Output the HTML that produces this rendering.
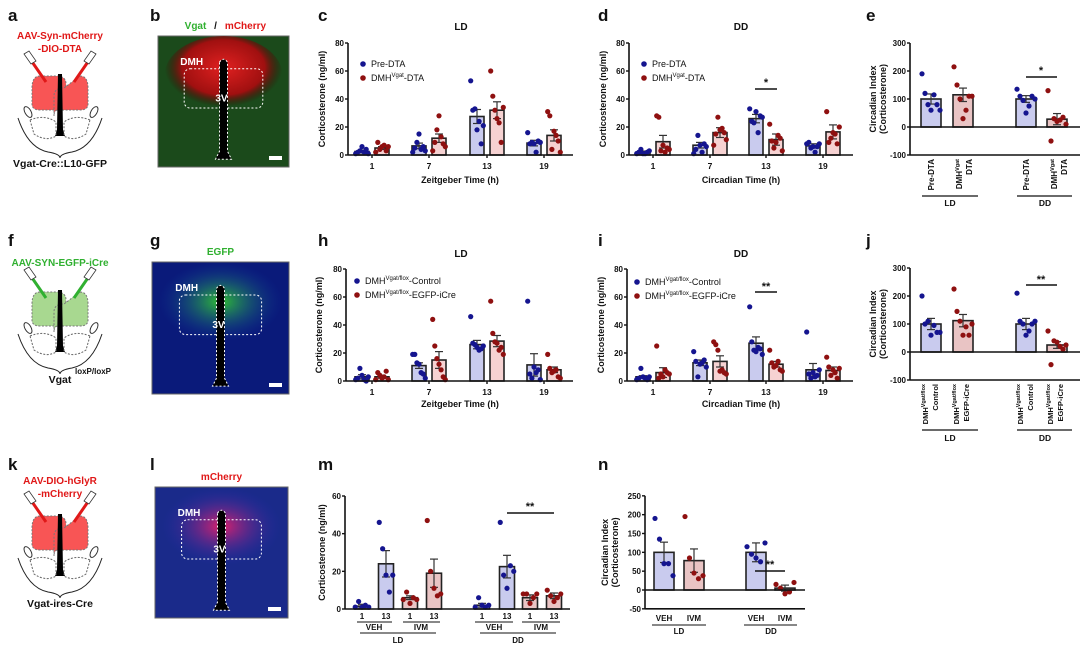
<!DOCTYPE html>
<html><head><meta charset="utf-8"><style>
html,body{margin:0;padding:0;background:#fff;}
svg{display:block;font-family:"Liberation Sans",Arial,sans-serif;}
text{font-family:"Liberation Sans",Arial,sans-serif;}
</style></head><body>
<svg id="s" width="1080" height="646" viewBox="0 0 1080 646" xmlns="http://www.w3.org/2000/svg">
<defs>
<radialGradient id="gr" cx="50%" cy="40%" r="50%"><stop offset="0" stop-color="#e02020"/><stop offset="0.7" stop-color="#a01010"/><stop offset="1" stop-color="#300" stop-opacity="0"/></radialGradient>
<radialGradient id="gg" cx="50%" cy="50%" r="50%"><stop offset="0" stop-color="#30c030"/><stop offset="1" stop-color="#1040a0" stop-opacity="0"/></radialGradient>
<radialGradient id="gm" cx="50%" cy="50%" r="50%"><stop offset="0" stop-color="#e0206a"/><stop offset="1" stop-color="#2030b0" stop-opacity="0"/></radialGradient>
</defs>
<g id="root"></g>
</svg>
<script>
const R=document.getElementById('root');
let H='';
const B='#15158f',D='#8f1010',BF='#c9cbee',RF='#f6d2d2',RF2='#e9c4c4';
function t(x,y,s,o){o=o||{};H+=`<text x="${x}" y="${y}" font-size="${o.fs||9}" font-weight="${o.fw||'bold'}" fill="${o.c||'#111'}" text-anchor="${o.a||'middle'}"${o.tr?` transform="${o.tr}"`:''}>${s}</text>`;}
function l(x1,y1,x2,y2,w,c){H+=`<line x1="${x1}" y1="${y1}" x2="${x2}" y2="${y2}" stroke="${c||'#111'}" stroke-width="${w||1.5}"/>`;}
function chart(c){
 const Y=v=>c.y0-(v)*c.sc;
 c.bars.forEach(b=>{
  const top=Y(Math.max(b.m,0)),bot=Y(Math.min(b.m,0));
  H+=`<rect x="${b.x-c.w/2}" y="${top}" width="${c.w}" height="${bot-top}" fill="${b.f}" stroke="#222" stroke-width="1.6"/>`;
  l(b.x,Y(b.m),b.x,Y(b.m+b.s),1.2,'#333');l(b.x-4,Y(b.m+b.s),b.x+4,Y(b.m+b.s),1.2,'#333');
  l(b.x,Y(b.m),b.x,Y(b.m-b.s),1.2,'#333');l(b.x-4,Y(b.m-b.s),b.x+4,Y(b.m-b.s),1.2,'#333');
  b.p.forEach((v,i)=>{const n=b.p.length;const dx=(i-(n-1)/2)*(c.w*0.9/Math.max(n-1,1));H+=`<circle cx="${b.x+dx}" cy="${Y(v)}" r="2.6" fill="${b.c}"/>`;});
 });
 l(c.ax,Y(c.ymax),c.ax,Y(c.ymin),1.6);
 const zy=Y(0);l(c.ax,zy,c.xe,zy,1.6);
 if(c.ymin<0) l(c.ax,Y(c.ymin),c.xe,Y(c.ymin),1.6);
 c.ticks.forEach(v=>{l(c.ax-3,Y(v),c.ax,Y(v),1.4);t(c.ax-4,Y(v)+3,v,{a:'end',fs:8});});
 if(c.xt) c.xt.forEach(([x,s])=>{l(x,zy,x,zy+3,1.4);t(x,zy+14,s,{fs:8.5});});
 t(c.ylx,(Y(c.ymax)+Y(c.ymin))/2,c.yl,{fs:9,tr:`rotate(-90 ${c.ylx} ${(Y(c.ymax)+Y(c.ymin))/2})`});
 if(c.yl2) t(c.ylx+10,(Y(c.ymax)+Y(c.ymin))/2,c.yl2,{fs:9,tr:`rotate(-90 ${c.ylx+10} ${(Y(c.ymax)+Y(c.ymin))/2})`});
}
function mk(xs,means,sems,pts,isRed,f){return xs.map((x,i)=>({x,m:means[i],s:sems[i],p:pts[i],c:isRed[i]?D:B,f:isRed[i]?(f||RF):BF}));}
t(8,21,'a',{fs:17,a:'start'});t(150,21,'b',{fs:17,a:'start'});t(318,21,'c',{fs:17,a:'start'});t(598,21,'d',{fs:17,a:'start'});t(866,21,'e',{fs:17,a:'start'});
t(150,246,'g',{fs:17,a:'start'}); t(8,246,'f',{fs:17,a:'start'});t(318,246,'h',{fs:17,a:'start'});t(598,246,'i',{fs:17,a:'start'});t(866,246,'j',{fs:17,a:'start'});
t(8,470,'k',{fs:17,a:'start'});t(150,470,'l',{fs:17,a:'start'});t(318,470,'m',{fs:17,a:'start'});t(598,470,'n',{fs:17,a:'start'});
function schem(y0,cy,col,fill,labels,bottom,sup){
 labels.forEach((s,i)=>t(60,y0+i*13,s,{fs:10,c:col}));
 H+=`<path d="M40 ${cy-14} q-8 0 -8 12 v16 q0 6 8 6 h22 q4 0 4 -6 v-20 q0 -8 -10 -8z" fill="${fill}" stroke="#777" stroke-dasharray="2,1.5"/>`;
 H+=`<path d="M80 ${cy-14} q8 0 8 12 v16 q0 6 -8 6 h-22 q-4 0 -4 6 v-20 q0 -8 10 -8z" fill="${fill}" stroke="#777" stroke-dasharray="2,1.5"/>`;
 H+=`<path d="M58 ${cy-16} h4 l1 56 l2 6 h-10 l2 -6z" fill="#000"/>`;
 H+=`<ellipse cx="28" cy="${cy+22}" rx="3" ry="6" fill="none" stroke="#333" transform="rotate(-30 28 ${cy+22})"/><ellipse cx="94" cy="${cy+22}" rx="3" ry="6" fill="none" stroke="#333" transform="rotate(30 94 ${cy+22})"/>`;
 H+=`<path d="M30 ${cy+30} q15 -6 26 2 v14 q-10 6 -22 -2z M90 ${cy+30} q-15 -6 -26 2 v14 q10 6 22 -2z" fill="none" stroke="#666" stroke-dasharray="2,1.5"/>`;
 H+=`<path d="M18 ${cy+28} q10 30 30 34 q12 2 12 6 q0 -4 12 -6 q20 -4 30 -34" fill="none" stroke="#222" stroke-width="1"/>`;
 H+=`<path d="M28 ${cy-34} l18 26 M92 ${cy-34} l-18 26" stroke="${col}" stroke-width="3"/><path d="M24 ${cy-36} l5 -3 l7 10 l-5 3z M96 ${cy-36} l-5 -3 l-7 10 l5 3z" fill="#fff" stroke="#333" stroke-width="0.8"/>`;
 t(60,cy+77,bottom,{fs:10.5});
 if(sup) t(75,cy+68,sup,{fs:8,a:'start'});
}
schem(39,90,'#e01818','#f85555',['AAV-Syn-mCherry','-DIO-DTA'],'Vgat-Cre::L10-GFP');
schem(266,306,'#30b030','#a8d890',['AAV-SYN-EGFP-iCre'],'Vgat     ','loxP/loxP');
schem(484,530,'#e01818','#f85555',['AAV-DIO-hGlyR','-mCherry'],'Vgat-ires-Cre');
function img(x,y,w,h,bg,grad,title){
 H+=`<rect x="${x}" y="${y}" width="${w}" height="${h}" fill="${bg}" stroke="#666"/>`;
 H+=`<ellipse cx="${x+w/2}" cy="${y+h*0.3}" rx="${w*0.45}" ry="${h*0.3}" fill="url(#${grad})"/>`;
 H+=`<rect x="${x+w*0.2}" y="${y+h*0.25}" width="${w*0.6}" height="${h*0.3}" rx="6" fill="none" stroke="#fff" stroke-dasharray="2,2"/>`;
 H+=`<path d="M${x+w/2-4} ${y+h*0.2} q4 -6 8 0 v${h*0.68} l4 8 h-16 l4 -8z" fill="#000" stroke="#fff" stroke-dasharray="2,2"/>`;
 t(x+w*0.17,y+h*0.22,'DMH',{fs:10,c:'#fff',a:'start'});t(x+w/2-2,y+h*0.5,'3V',{fs:10,c:'#fff'});
 H+=`<rect x="${x+w-20}" y="${y+h-11}" width="13" height="4" fill="#fff"/>`;
 title.forEach(([s,c,dx])=>t(x+w/2+dx,y-7,s,{fs:10,c}));
}
img(158,36,131,131,'#1b4a1b','gr',[['Vgat','#30b030',-28],['/','#111',-8],['mCherry','#e01818',22]]);
img(152,262,137,132,'#0a1a7a','gg',[['EGFP','#30b030',0]]);
img(155,487,133,131,'#1a2a8a','gm',[['mCherry','#e01818',0]]);
t(461,30,'LD',{fs:10});t(741,30,'DD',{fs:10});
const c1={ax:348,xe:573,y0:155,sc:112/80,ymin:0,ymax:80,ticks:[0,20,40,60,80],w:14,ylx:325,yl:'Corticosterone (ng/ml)',
xt:[[372,'1'],[429,'7'],[487,'13'],[544,'19']],bars:mk([362,382,419,439,477,497,534,554],[2.5,5,6.5,12,27.5,32,8.5,14],[1,1,2,3,5,6,2,4],
[[1,2,3,6,2,4,1],[2,9,4,6,7,3,6],[2,5,9,15,4,6,3],[3,9,18,28,13,8,6],[53,32,33,18,24,8,21],[60,42,32,26,23,9,34],[16,8,9,8,2,10,9],[31,28,4,17,14,10,2]],[0,1,0,1,0,1,0,1])};
chart(c1);
t(460,183,'Zeitgeber Time (h)',{fs:9});
function leg(x,y,items){items.forEach(([c,s],i)=>{H+=`<circle cx="${x}" cy="${y+i*14-3}" r="2.8" fill="${c}"/>`;t(x+8,y+i*14,s,{fs:9,fw:'normal',a:'start'});});}
leg(363,67,[[B,'Pre-DTA'],[D,'DMH<tspan font-size="6" dy="-4">Vgat</tspan><tspan dy="4">-DTA</tspan>']]);
const d1=JSON.parse(JSON.stringify(c1));d1.ax=629;d1.xe=853;d1.ylx=606;d1.xt=[[653,'1'],[710,'7'],[766,'13'],[823,'19']];
d1.bars=mk([643,663,700,720,756,776,813,833],[2,9.5,7,16,26,11,6.5,16.5],[0.8,4.5,2,3.5,3,4,1.5,5],
[[1,2,4,1,1,2,3],[28,27,3,7,2,5,4],[1,4,14,7,2,8,6],[7,15,27,18,19,16,11],[33,24,23,31,16,28,27],[22,10,5,9,14,12,3],[8,9,5,6,2,6,8],[31,9,12,16,15,8,20]],[0,1,0,1,0,1,0,1]);
chart(d1);t(741,183,'Circadian Time (h)',{fs:9});
leg(644,67,[[B,'Pre-DTA'],[D,'DMH<tspan font-size="6" dy="-4">Vgat</tspan><tspan dy="4">-DTA</tspan>']]);
l(755,89,777,89,1.5);t(766,86,'*',{fs:11});
const e1={ax:910,xe:1080,y0:127,sc:28/100,ymin:-100,ymax:300,ticks:[-100,0,100,200,300],w:20,ylx:876,yl:'Circadian Index',yl2:'(Corticosterone)',
bars:mk([931,963,1026,1057],[100,115,100,28],[18,24,12,20],[[190,120,80,60,115,80,60],[215,150,100,30,60,110,110],[135,110,95,50,75,110,100],[130,-50,30,20,25,35,10]],[0,1,0,1],RF2)};
chart(e1);
l(1026,77,1057,77,1.5);t(1041,74,'*',{fs:11});
function rot(x,y,s,fs){t(x,y,s,{fs:fs||8,a:'end',tr:`rotate(-90 ${x} ${y})`});}
rot(934,159,'Pre-DTA');rot(962,159,'DMH<tspan font-size="5.5" dy="-3">Vgat</tspan>');rot(972,159,'DTA');
rot(1029,159,'Pre-DTA');rot(1057,159,'DMH<tspan font-size="5.5" dy="-3">Vgat</tspan>');rot(1067,159,'DTA');
l(922,196,978,196,1.3);t(950,206,'LD',{fs:8.5});l(1017,196,1072,196,1.3);t(1045,206,'DD',{fs:8.5});
t(461,257,'LD',{fs:10});t(741,257,'DD',{fs:10});
const h1=JSON.parse(JSON.stringify(c1));h1.y0=381;h1.ylx=322;h1.ax=346;
h1.bars=mk([362,382,419,439,477,497,534,554],[3,3,11,15,26,28.5,11.5,8],[1.5,1,2,6,3,4,8,2],
[[1,2,9,4,1,0,3],[1,6,4,2,3,7,1],[19,19,13,12,6,5,2],[44,25,16,12,8,3,1],[46,27,26,24,22,23,25],[57,34,28,27,22,24,19],[57,5,2,10,6,8,1],[19,9,6,7,8,3,2]],[0,1,0,1,0,1,0,1]);
chart(h1);t(460,407,'Zeitgeber Time (h)',{fs:9});
leg(357,284,[[B,'DMH<tspan font-size="6" dy="-4">Vgat/flox</tspan><tspan dy="4">-Control</tspan>'],[D,'DMH<tspan font-size="6" dy="-4">Vgat/flox</tspan><tspan dy="4">-EGFP-iCre</tspan>']]);
const i1=JSON.parse(JSON.stringify(d1));i1.y0=381;i1.ax=627;i1.ylx=604;
i1.bars=mk([643,663,700,720,756,776,813,833],[3,6,13,14,27,12,8,7.5],[0.8,3.5,2,4,4.5,2,4.5,2.5],
[[1,2,9,3,2,1,3],[25,2,5,3,8,6,5],[21,14,3,12,13,15,10],[28,26,22,7,8,6,5],[53,28,22,21,24,23,19],[22,13,10,11,14,8,7],[35,5,2,6,3,4,8],[17,10,4,8,6,2,9]],[0,1,0,1,0,1,0,1]);
chart(i1);t(741,407,'Circadian Time (h)',{fs:9});
leg(637,285,[[B,'DMH<tspan font-size="6" dy="-4">Vgat/flox</tspan><tspan dy="4">-Control</tspan>'],[D,'DMH<tspan font-size="6" dy="-4">Vgat/flox</tspan><tspan dy="4">-EGFP-iCre</tspan>']]);
l(755,292,777,292,1.5);t(766,290,'**',{fs:11});
const j1=JSON.parse(JSON.stringify(e1));j1.y0=352;
j1.bars=mk([931,963,1026,1057],[100,112,100,25],[20,22,20,12],[[200,100,110,60,95,70,70],[225,145,110,60,90,60,100],[210,110,100,60,75,100,110],[75,-45,40,35,20,10,25]],[0,1,0,1],RF2);
chart(j1);
l(1026,285,1057,285,1.5);t(1041,283,'**',{fs:11});
function rot2(x,y,b){rot(x-5,y,'DMH<tspan font-size="5.5" dy="-3">Vgat/flox</tspan>',7.5);rot(x+5,y,b,7.5);}
rot2(933,384,'Control');rot2(964,384,'EGFP-iCre');rot2(1028,384,'Control');rot2(1058,384,'EGFP-iCre');
l(922,430,978,430,1.3);t(950,441,'LD',{fs:8.5});l(1017,430,1072,430,1.3);t(1045,441,'DD',{fs:8.5});
const m1={ax:345,xe:570,y0:609,sc:113/60,ymin:0,ymax:60,ticks:[0,20,40,60],w:15,ylx:325,yl:'Corticosterone (ng/ml)',
bars:mk([362,386,410,434,482,507,530,554],[1.5,24,6,19,2,22.5,6,7],[1,7,1,7.5,1,6,1.5,1.5],
[[1,4,1,2,1],[46,32,18,9,18],[5,9,3,6,5],[47,20,11,7,8],[1,6,2,1,2],[46,18,11,23,20],[8,8,3,6,8],[10,7,4,6,8]],[0,0,1,1,0,0,1,1],RF2)};
chart(m1);
[[362,'1'],[386,'13'],[410,'1'],[434,'13'],[482,'1'],[507,'13'],[530,'1'],[554,'13']].forEach(([x,s])=>t(x,619,s,{fs:8}));
[[357,392],[403,440],[475,513],[522,560]].forEach(([a,b])=>l(a,622,b,622,1.1));
t(374,630,'VEH',{fs:8});t(421,630,'IVM',{fs:8});t(494,630,'VEH',{fs:8});t(541,630,'IVM',{fs:8});
l(360,633,436,633,1.1);l(480,633,556,633,1.1);t(398,643,'LD',{fs:8});t(518,643,'DD',{fs:8});
l(507,513,554,513,1.5);t(530,510,'**',{fs:11});
const n1={ax:645,xe:805,y0:590,sc:113/300,ymin:-50,ymax:250,ticks:[-50,0,50,100,150,200,250],w:20,ylx:608,yl:'Circadian Index',yl2:'(Corticosterone)',
bars:mk([664,694,756,785],[100,78,100,5],[27,31,25,8],[[190,135,70,70,38],[195,85,45,30,38],[115,95,85,75,125],[15,5,-10,-5,20]],[0,1,0,1],RF2)};
chart(n1);
t(664,621,'VEH',{fs:8});t(694,621,'IVM',{fs:8});t(756,621,'VEH',{fs:8});t(785,621,'IVM',{fs:8});
l(652,625,706,625,1.1);l(744,625,797,625,1.1);t(679,634,'LD',{fs:8});t(771,634,'DD',{fs:8});
l(755,571,785,571,1.5);t(770,568,'**',{fs:11});
R.innerHTML=H;
</script>
</body></html>
